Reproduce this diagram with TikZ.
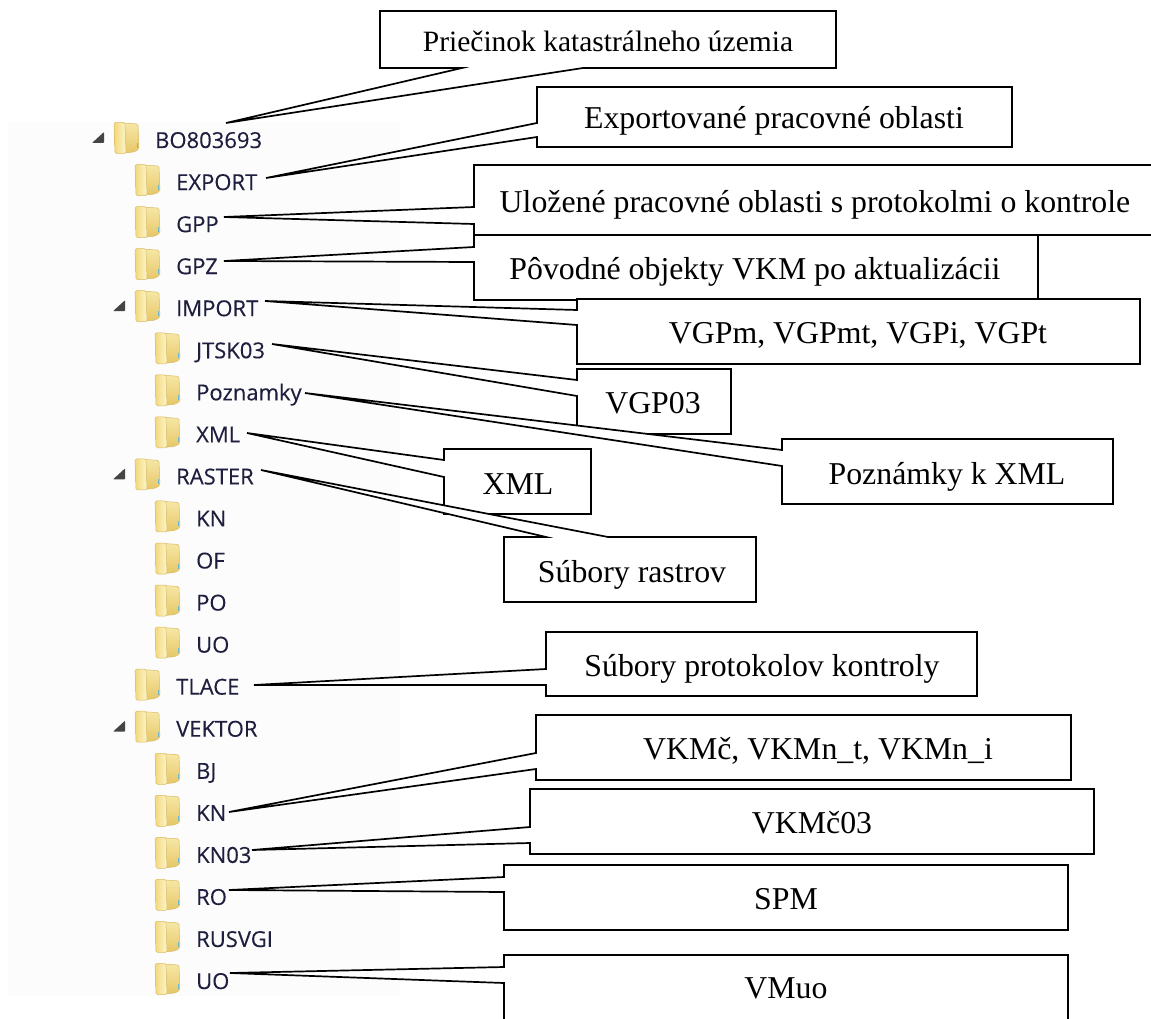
\documentclass[tikz,border=0pt]{standalone}
\usepackage{fontspec}
\setmainfont{Liberation Serif}
\newfontfamily\treefont[FakeBold=0.2]{Open Sans}
\definecolor{treebg}{HTML}{FCFCFC}
\definecolor{treeink}{HTML}{1E1E3E}
\definecolor{foldA}{HTML}{F2D77C}
\definecolor{foldB}{HTML}{FDF6CC}
\definecolor{foldC}{HTML}{E6C768}
\definecolor{foldD}{HTML}{F6E7A6}
\definecolor{foldE}{HTML}{D9BC62}
\definecolor{foldDot}{HTML}{6FB7C9}
\definecolor{triink}{HTML}{444444}
\tikzset{
  x=1pt,y=-1pt,
  call/.style={draw=black,fill=white,line width=1.7pt,line join=miter,miter limit=20},
  calltext/.style={anchor=base,inner sep=0pt,font=\fontsize{31.8}{36}\selectfont,text=black},
  calltop/.style={anchor=base,inner sep=0pt,font=\fontsize{29.5}{34}\selectfont,text=black},
  treetext/.style={anchor=base west,inner sep=0pt,font=\treefont\fontsize{22}{26}\selectfont,text=treeink},
}
% \treerow{name}{folder x}{row}{text}
\newcommand{\treerow}[4]{%
  \pgfmathsetmacro{\rowy}{138+42.05*#3}%
  \begin{scope}[shift={(#2,\rowy)}]
    \path[top color=foldD,bottom color=foldC,draw=foldE,line width=.5pt,rounded corners=1.5pt]
      (9,-15) -- (24,-14) -- (25,11) -- (20,14) -- (9,15) -- cycle;
    \path[left color=foldA,right color=foldB,draw=foldE,line width=.5pt,rounded corners=1.5pt]
      (0,-15.5) -- (11,-15.5) -- (12,15.5) -- (1,15.5) -- cycle;
    \fill[foldDot] (22.6,5) rectangle (24,10);
  \end{scope}
  \node[treetext] (#1) at (#2+41,\rowy+10) {#4};%
}
% \treetri{x}{row}
\newcommand{\treetri}[2]{%
  \pgfmathsetmacro{\rowy}{138+42.05*#2}%
  \fill[triink,rounded corners=.8pt] (#1+12,\rowy-6) -- (#1+12,\rowy+5) -- (#1,\rowy+5) -- cycle;%
}
\begin{document}
\begin{tikzpicture}
\clip (0,0) rectangle (1151,1019);
\fill[white] (0,0) rectangle (1151,1019);
\fill[treebg] (8,122) rectangle (400,996);
% folder tree
\treetri{92}{0}\treetri{113}{4}\treetri{113}{8}\treetri{113}{14}
\treerow{fBO}{114}{0}{BO803693}
\treerow{fEX}{135}{1}{EXPORT}
\treerow{fGP}{135}{2}{GPP}
\treerow{fGZ}{135}{3}{GPZ}
\treerow{fIM}{135}{4}{IMPORT}
\treerow{fJT}{155}{5}{JTSK03}
\treerow{fPO}{155}{6}{Poznamky}
\treerow{fXM}{155}{7}{XML}
\treerow{fRA}{135}{8}{RASTER}
\treerow{fRK}{155}{9}{KN}
\treerow{fRF}{155}{10}{OF}
\treerow{fRP}{155}{11}{PO}
\treerow{fRU}{155}{12}{UO}
\treerow{fTL}{135}{13}{TLACE}
\treerow{fVE}{135}{14}{VEKTOR}
\treerow{fVB}{155}{15}{BJ}
\treerow{fVK}{155}{16}{KN}
\treerow{fV3}{155}{17}{KN03}
\treerow{fVR}{155}{18}{RO}
\treerow{fVS}{155}{19}{RUSVGI}
\treerow{fVU}{155}{20}{UO}
% callout tips
\coordinate (tBO) at (226,123);
\coordinate (tEX) at (266,178);
\coordinate (tGP) at (224,217);
\coordinate (tGZ) at (224,261);
\coordinate (tIM) at (265,301);
\coordinate (tJT) at (272,344);
\coordinate (tPO) at (305,393);
\coordinate (tXM) at (247,433);
\coordinate (tRA) at (261,470);
\coordinate (tTL) at (254,685);
\coordinate (tVK) at (229,812);
\coordinate (tV3) at (252,850);
\coordinate (tVR) at (229,890);
\coordinate (tVU) at (230,973);
% callouts
\path[call] (380,11) -- (836,11) -- (836,68) -- (583,68) -- (tBO) -- (462,68) -- (380,68) -- cycle;
\node[calltop] (nBO) at (608,52) {Priečinok katastrálneho územia};
\path[call] (537,87) -- (1012,87) -- (1012,147) -- (537,147) -- (537,137) -- (tEX) -- (537,123) -- cycle;
\node[calltext] (nEX) at (774,129) {Exportované pracovné oblasti};
\path[call] (474,165) -- (1170,165) -- (1170,235) -- (474,235) -- (474,224) -- (tGP) -- (474,207) -- cycle;
\node[calltext] (nGP) at (815,212) {Uložené pracovné oblasti s protokolmi o kontrole};
\path[call] (474,235) -- (1038,235) -- (1038,300) -- (474,300) -- (474,262) -- (tGZ) -- (474,247) -- cycle;
\node[calltext] (nGZ) at (755,279) {Pôvodné objekty VKM po aktualizácii};
\path[call] (577,299) -- (1140,299) -- (1140,364) -- (577,364) -- (577,325) -- (tIM) -- (577,310) -- cycle;
\node[calltext] (nIM) at (858,343) {VGPm, VGPmt, VGPi, VGPt};
\path[call] (577,369) -- (731,369) -- (731,434) -- (577,434) -- (577,396) -- (tJT) -- (577,380) -- cycle;
\node[calltext] (nJT) at (653,413) {VGP03};
\path[call] (782,439) -- (1113,439) -- (1113,504) -- (782,504) -- (782,466) -- (tPO) -- (782,450) -- cycle;
\node[calltext] (nPO) at (947,484) {Poznámky k XML};
\path[call] (444,449) -- (591,449) -- (591,514) -- (444,514) -- (444,477) -- (tXM) -- (444,460) -- cycle;
\node[calltext] (nXM) at (518,494) {XML};
\path[call] (504,537) -- (546,537) -- (tRA) -- (608,537) -- (756,537) -- (756,602) -- (504,602) -- cycle;
\node[calltext] (nRA) at (632,582) {Súbory rastrov};
\path[call] (546,632) -- (977,632) -- (977,696) -- (546,696) -- (546,685) -- (tTL) -- (546,669) -- cycle;
\node[calltext] (nTL) at (762,676) {Súbory protokolov kontroly};
\path[call] (536,715) -- (1071,715) -- (1071,780) -- (536,780) -- (536,769) -- (tVK) -- (536,753) -- cycle;
\node[calltext] (nVK) at (818,759) {VKMč, VKMn\_t, VKMn\_i};
\path[call] (530,789) -- (1094,789) -- (1094,854) -- (530,854) -- (530,843) -- (tV3) -- (530,827) -- cycle;
\node[calltext] (nV3) at (812,833) {VKMč03};
\path[call] (504,865) -- (1068,865) -- (1068,930) -- (504,930) -- (504,892) -- (tVR) -- (504,877) -- cycle;
\node[calltext] (nVR) at (786,909) {SPM};
\path[call] (504,955) -- (1068,955) -- (1068,1040) -- (504,1040) -- (504,983) -- (tVU) -- (504,967) -- cycle;
\node[calltext] (nVU) at (786,998) {VMuo};
\end{tikzpicture}
\end{document}
